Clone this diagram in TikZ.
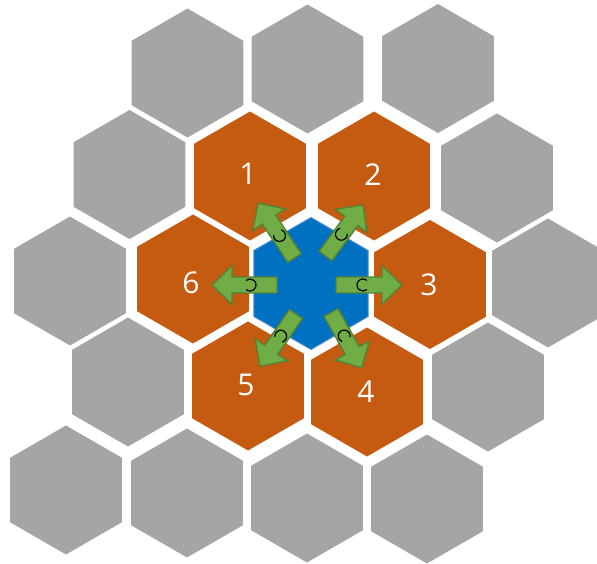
\documentclass[tikz,border=0pt]{standalone}
\usepackage{fontspec}
\setmainfont{Open Sans}
\definecolor{hexgray}{HTML}{A5A5A5}
\definecolor{hexorange}{HTML}{C55A11}
\definecolor{hexblue}{HTML}{0070C0}
\definecolor{hexrim}{HTML}{4F8FD0}
\definecolor{arrowgreen}{HTML}{70AD47}
\definecolor{arrowedge}{HTML}{548235}
\newcommand\hexcell[5]{% name, x, y, radius, style
  \path[#5] (#2,#3) +(90:#4) -- +(150:#4) -- +(210:#4) -- +(270:#4) -- +(330:#4) -- +(30:#4) -- cycle;
  \coordinate (#1) at (#2,#3);}
\newcommand\greenarrow[4]{% x, y, angle, length
  \begin{scope}[shift={(#1,#2)},rotate=#3]
    \draw[blockarrow] (0,-8) -- ({#4-20},-8) -- ({#4-20},-19.5) -- (#4,0) -- ({#4-20},19.5) -- ({#4-20},8) -- (0,8) -- cycle;
    \draw[carc] (27,0) ++(50:6) arc[start angle=50,end angle=310,radius=6pt];
  \end{scope}}
\begin{document}
\begin{tikzpicture}[x=1pt,y=1pt,
  grayhex/.style={fill=hexgray},
  orangehex/.style={fill=hexorange},
  bluehex/.style={fill=hexblue,draw=hexrim,line width=1pt},
  cellnum/.style={text=white,font=\fontsize{30}{36}\selectfont,inner sep=0pt},
  blockarrow/.style={fill=arrowgreen,draw=arrowedge,line width=1.4pt,line join=miter},
  carc/.style={draw=black,line width=1.2pt}]
\useasboundingbox (0,0) rectangle (597,563);
% row 0
\hexcell{g1}{187.5}{490}{64.5}{grayhex}
\hexcell{g2}{307.5}{494}{64.5}{grayhex}
\hexcell{g3}{438}{494.5}{64.5}{grayhex}
% row 1
\hexcell{g4}{129.5}{388.5}{64.5}{grayhex}
\hexcell{o1}{250}{387}{64.5}{orangehex}
\hexcell{o2}{374}{387}{64.5}{orangehex}
\hexcell{g5}{497}{385}{64.5}{grayhex}
% row 2
\hexcell{g6}{70}{282}{64.5}{grayhex}
\hexcell{o6}{193}{284}{64.5}{orangehex}
\hexcell{o3}{430}{278.5}{64.5}{orangehex}
\hexcell{g7}{548}{280}{64.5}{grayhex}
% row 3
\hexcell{g8}{128}{181}{64.5}{grayhex}
\hexcell{o5}{248}{177}{64.5}{orangehex}
\hexcell{o4}{367}{171}{64.5}{orangehex}
\hexcell{g9}{488}{176}{64.5}{grayhex}
% row 4
\hexcell{g10}{66}{73}{64.5}{grayhex}
\hexcell{g11}{187}{70}{64.5}{grayhex}
\hexcell{g12}{307}{65}{64.5}{grayhex}
\hexcell{g13}{427}{64}{64.5}{grayhex}
% centre
\hexcell{c}{311}{279.5}{66}{bluehex}
% labels
\node[cellnum] (n1) at (248,389) {1};
\node[cellnum] (n2) at (373,388) {2};
\node[cellnum] (n3) at (429,278) {3};
\node[cellnum] (n4) at (366,171) {4};
\node[cellnum] (n5) at (246,178) {5};
\node[cellnum] (n6) at (191,280) {6};
% arrows
\greenarrow{336}{278}{0}{66}
\greenarrow{277}{278}{180}{65}
\greenarrow{294.5}{305}{123.6}{66}
\greenarrow{325.5}{307}{53.7}{63.5}
\greenarrow{296}{249}{235.3}{63.5}
\greenarrow{331}{250.5}{299.2}{63.5}
\end{tikzpicture}
\end{document}
